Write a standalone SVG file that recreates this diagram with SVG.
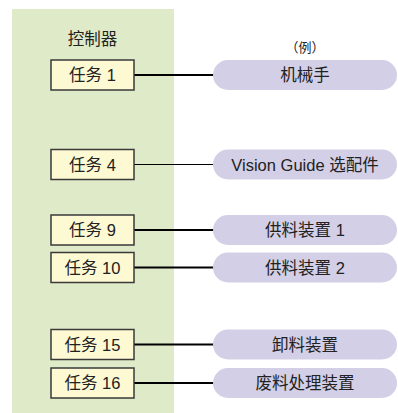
<svg xmlns="http://www.w3.org/2000/svg" width="398" height="413" viewBox="0 0 398 413">
<style>
.t{font-family:"Liberation Sans","Noto Sans CJK SC",sans-serif;font-size:16.5px;fill:#222;text-anchor:middle}
.box{fill:#fdf9d3;stroke:#3a3a3a;stroke-width:1.5}
.pill{fill:#d3cfe6}
.ln{stroke:#000;stroke-width:2;fill:none}
</style>
<rect id="controller" x="12" y="9" width="162" height="404" fill="#dfebc8"/>
<text class="t" x="92.5" y="45">控制器</text>
<text class="t" x="305" y="52" style="font-size:13px">（例）</text>
<g id="connectors">
<line class="ln" x1="134" y1="75" x2="214" y2="75"/>
<line class="ln" x1="134" y1="164.5" x2="214" y2="164.5" style="stroke-width:1.2"/>
<line class="ln" x1="134" y1="230" x2="214" y2="230"/>
<line class="ln" x1="134" y1="267.5" x2="214" y2="267.5"/>
<line class="ln" x1="134" y1="344.5" x2="214" y2="344.5"/>
<line class="ln" x1="134" y1="383" x2="214" y2="383"/>
</g>
<g id="task1"><rect class="box" x="51" y="60" width="83" height="30"/><text class="t" x="92.5" y="81">任务 1</text></g>
<g id="task4"><rect class="box" x="51" y="149.5" width="83" height="30"/><text class="t" x="92.5" y="170.5">任务 4</text></g>
<g id="task9"><rect class="box" x="51" y="215" width="83" height="30"/><text class="t" x="92.5" y="236">任务 9</text></g>
<g id="task10"><rect class="box" x="51" y="252.5" width="83" height="30"/><text class="t" x="92.5" y="273.5">任务 10</text></g>
<g id="task15"><rect class="box" x="51" y="329.5" width="83" height="30"/><text class="t" x="92.5" y="350.5">任务 15</text></g>
<g id="task16"><rect class="box" x="51" y="368" width="83" height="30"/><text class="t" x="92.5" y="389">任务 16</text></g>
<g id="robot"><rect class="pill" x="213" y="60" width="184" height="30" rx="15"/><text class="t" x="305" y="81">机械手</text></g>
<g id="vision"><rect class="pill" x="213" y="149.5" width="184" height="30" rx="15"/><text class="t" x="305" y="170.5">Vision Guide 选配件</text></g>
<g id="feeder1"><rect class="pill" x="213" y="215" width="184" height="30" rx="15"/><text class="t" x="305" y="236">供料装置 1</text></g>
<g id="feeder2"><rect class="pill" x="213" y="252.5" width="184" height="30" rx="15"/><text class="t" x="305" y="273.5">供料装置 2</text></g>
<g id="unloader"><rect class="pill" x="213" y="329.5" width="184" height="30" rx="15"/><text class="t" x="305" y="350.5">卸料装置</text></g>
<g id="waste"><rect class="pill" x="213" y="368" width="184" height="30" rx="15"/><text class="t" x="305" y="389">废料处理装置</text></g>
</svg>
